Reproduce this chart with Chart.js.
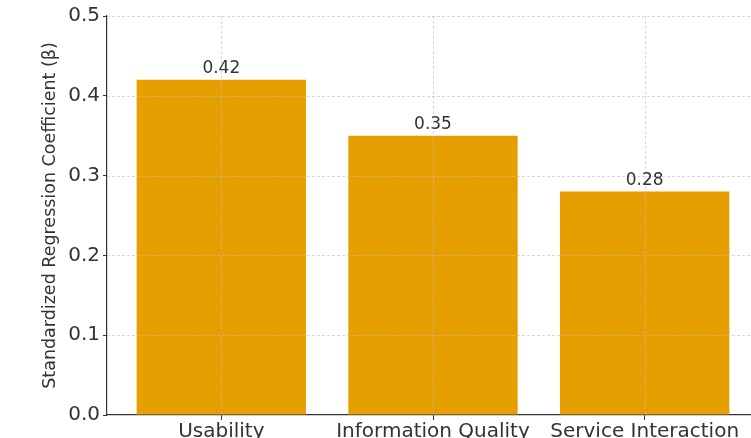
<!DOCTYPE html>
<html>
<head>
<meta charset="utf-8">
<script src="https://cdn.jsdelivr.net/npm/chart.js@4/dist/chart.umd.min.js"></script>
<style>
  html, body { margin: 0; padding: 0; background: #fff; overflow: hidden; }
  canvas { display: block; }
</style>
</head>
<body>
<canvas id="wykres" width="770" height="438"></canvas>
<script>
'use strict';

// dane
var kategorie = ['Usability', 'Information Quality', 'Service Interaction'];
var wspolczynniki = [0.42, 0.35, 0.28];
var pozycjeX = [0, 1, 2];
var tickiY = [0, 0.1, 0.2, 0.3, 0.4, 0.5];

var KOLOR_SLUPKA = '#E69F00';
var KOLOR_TEKSTU = '#333333';
var KOLOR_OSI = '#333333';
var FONT = '"DejaVu Sans", sans-serif';

/* siatka rysowana NAD słupkami (jak w matplotlib) */
var siatkaNaWierzchu = {
  id: 'siatkaNaWierzchu',
  afterDatasetsDraw: function (chart) {
    var ctx = chart.ctx;
    var area = chart.chartArea;
    var sx = chart.scales.x;
    var sy = chart.scales.y;
    ctx.save();
    ctx.strokeStyle = 'rgba(190,190,190,0.75)';
    ctx.lineWidth = 0.8;
    ctx.setLineDash([3, 2]);
    tickiY.forEach(function (v) {
      if (v === 0) return;
      var y = Math.round(sy.getPixelForValue(v)) + 0.5;
      ctx.beginPath();
      ctx.moveTo(area.left, y);
      ctx.lineTo(area.right, y);
      ctx.stroke();
    });
    pozycjeX.forEach(function (v) {
      var x = Math.round(sx.getPixelForValue(v)) + 0.5;
      ctx.beginPath();
      ctx.moveTo(x, area.top);
      ctx.lineTo(x, area.bottom);
      ctx.stroke();
    });
    ctx.restore();
  }
};

/* etykiety wartości nad słupkami */
var etykietyWartosci = {
  id: 'etykietyWartosci',
  afterDatasetsDraw: function (chart) {
    var ctx = chart.ctx;
    var meta = chart.getDatasetMeta(0);
    ctx.save();
    ctx.fillStyle = KOLOR_TEKSTU;
    ctx.font = '17px ' + FONT;
    ctx.textAlign = 'center';
    ctx.textBaseline = 'alphabetic';
    meta.data.forEach(function (bar, i) {
      ctx.fillText(wspolczynniki[i].toFixed(2), bar.x, bar.y - 7);
    });
    ctx.restore();
  }
};

new Chart(document.getElementById('wykres'), {
  type: 'bar',
  data: {
    datasets: [{
      data: pozycjeX.map(function (x, i) { return { x: x, y: wspolczynniki[i] }; }),
      backgroundColor: KOLOR_SLUPKA,
      borderWidth: 0,
      barPercentage: 0.8,
      categoryPercentage: 1.0
    }]
  },
  options: {
    responsive: false,
    animation: false,
    layout: { padding: { top: 16, right: 11, left: 0, bottom: 0 } },
    plugins: {
      legend: { display: false },
      tooltip: { enabled: false },
      title: { display: false }
    },
    scales: {
      x: {
        type: 'linear',
        offset: false,
        min: -0.54,
        max: 2.54,
        afterBuildTicks: function (scale) {
          scale.ticks = pozycjeX.map(function (v) { return { value: v }; });
        },
        afterFit: function (scale) { scale.height = 23; },
        grid: { offset: false, color: 'transparent', tickColor: KOLOR_OSI, tickLength: 5, drawOnChartArea: false },
        border: { display: true, color: KOLOR_OSI, width: 1.2 },
        ticks: {
          color: KOLOR_TEKSTU,
          font: { family: FONT, size: 20 },
          padding: 0,
          maxRotation: 0,
          autoSkip: false,
          callback: function (v) { return kategorie[v]; }
        }
      },
      y: {
        min: 0,
        max: 0.5,
        afterBuildTicks: function (scale) {
          scale.ticks = tickiY.map(function (v) { return { value: v }; });
        },
        afterFit: function (scale) { scale.width = 107; },
        grid: { color: 'transparent', tickColor: KOLOR_OSI, tickLength: 4, drawOnChartArea: false },
        border: { display: true, color: KOLOR_OSI, width: 1.2 },
        ticks: {
          color: KOLOR_TEKSTU,
          font: { family: FONT, size: 20 },
          padding: 3,
          callback: function (v) { return v.toFixed(1); }
        },
        title: {
          display: true,
          text: 'Standardized Regression Coefficient (\u03b2)',
          color: KOLOR_TEKSTU,
          font: { family: FONT, size: 17.5 },
          padding: { top: 40, bottom: 0 }
        }
      }
    }
  },
  plugins: [siatkaNaWierzchu, etykietyWartosci]
});
</script>
</body>
</html>
